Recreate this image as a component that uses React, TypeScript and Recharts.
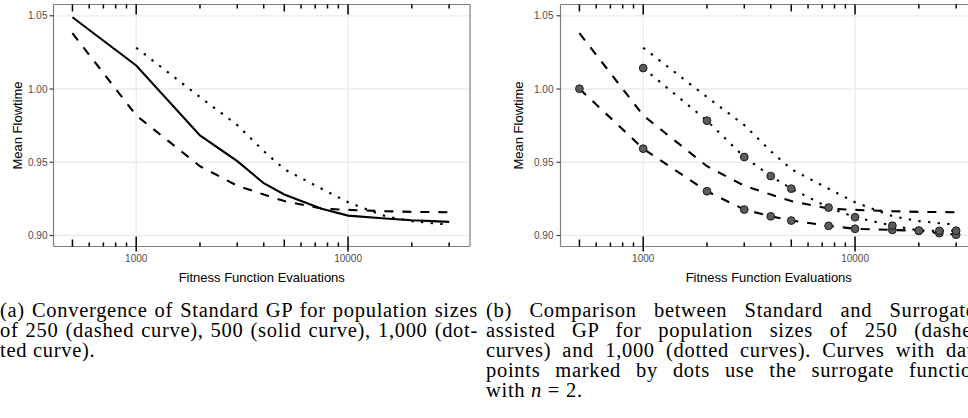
import React from 'react';
import { LineChart, Line, XAxis, YAxis, CartesianGrid } from 'recharts';

// ---- data ----
const evaluations = [500, 1000, 2000, 3000, 4000, 5000, 7500, 10000, 15000, 20000, 25000, 30000];
const standard250 = [1.0381, 0.982, 0.9473, 0.934, 0.928, 0.9235, 0.9184, 0.9175, 0.9166, 0.9161, 0.916, 0.9159];
const standard500 = [1.049, 1.0161, 0.9683, 0.9508, 0.9357, 0.928, 0.9182, 0.9136, 0.9116, 0.9104, 0.9098, 0.9093];
const standard1000 = [null, 1.0282, 0.9945, 0.9754, 0.9576, 0.9453, 0.9319, 0.9227, 0.9132, 0.9098, 0.9084, 0.9075];
const surrogate250 = [1.0002, 0.9593, 0.9302, 0.9177, 0.9131, 0.9102, 0.9066, 0.9046, 0.9038, 0.9032, 0.9016, 0.9006];
const surrogate1000 = [null, 1.0143, 0.9784, 0.9536, 0.9406, 0.932, 0.9191, 0.9125, 0.9067, 0.9034, 0.9032, 0.9033];

const yTicks = [0.9, 0.95, 1.0, 1.05];
const xMajorTicks = [1000, 10000];
const xMidTicks = [500, 5000];
const xLogTicks = [500, 600, 700, 800, 900, 1000, 2000, 3000, 4000, 5000, 6000, 7000, 8000, 9000, 10000, 20000, 30000];
const X_DOMAIN: [number, number] = [407, 37640];
const Y_DOMAIN: [number, number] = [0.8925, 1.0577];

const xTitle = 'Fitness Function Evaluations';
const yTitle = 'Mean Flowtime';

const captionA = [
  '(a) Convergence of Standard GP for population sizes',
  'of 250 (dashed curve), 500 (solid curve), 1,000 (dot-',
  'ted curve).',
];
const captionB = [
  '(b) Comparison between Standard and Surrogate-',
  'assisted GP for population sizes of 250 (dashed',
  'curves) and 1,000 (dotted curves). Curves with data',
  'points marked by dots use the surrogate function',
];

const data = evaluations.map((x, i) => ({
  evaluations: x,
  standard250: standard250[i],
  standard500: standard500[i],
  standard1000: standard1000[i],
  surrogate250: surrogate250[i],
  surrogate1000: surrogate1000[i],
}));

// ---- layout & styling ----
const CHART_W = 480;
const CHART_H = 290;
const MARGIN_TOP = 4.5;
const X_AXIS_H = 43.5;
const PLOT_H = CHART_H - MARGIN_TOP - X_AXIS_H;

const SANS = '"Liberation Sans", Arial, Helvetica, sans-serif';
const SERIF = '"Liberation Serif", serif';
const TICK_COLOR = '#000';
const LABEL_COLOR = '#4d4d4d';
const GRID = '#ebebeb';
const BORDER = '#7f7f7f';
const LW = 2.1;
const DASHED = '9 9';
const DOTTED = '2.4 7.3';
const TW = 1.5;

const tickLen = (v: number) => (xMajorTicks.includes(v) ? 10 : xMidTicks.includes(v) ? 7 : 4);

// bottom log ticks: inside the panel, majors also poke out below
const LogTick = (props: any) => {
  const { x, y, payload } = props;
  const v = Number(payload.value);
  const major = xMajorTicks.includes(v);
  const len = tickLen(v);
  const topY = y - PLOT_H;
  return (
    <g>
      <rect x={x - TW / 2} y={y - len} width={TW} height={len + (major ? 5 : 0)} fill={TICK_COLOR} />
      <rect x={x - TW / 2} y={topY} width={TW} height={len} fill={TICK_COLOR} />
      {major && (
        <text x={x} y={y + 15.5} textAnchor="middle" fontSize={10} fill={LABEL_COLOR} fontFamily={SANS}>
          {v}
        </text>
      )}
    </g>
  );
};

// top log ticks: inside the panel
const TopTick = (props: any) => {
  const { x, y, payload } = props;
  const len = tickLen(Number(payload.value));
  return <rect x={x - TW / 2} y={y} width={TW} height={len} fill={TICK_COLOR} />;
};

const renderDot = (p: any) => {
  if (p.value == null || p.cy == null || isNaN(p.cy)) return <g key={`e-${p.index}`} />;
  return <circle key={`d-${p.index}`} cx={p.cx} cy={p.cy} r={3.9} fill="#5c5c5c" stroke="#111" strokeWidth={0.9} />;
};

type PanelProps = { variant: 'a' | 'b'; yTitleX: number; tickMargin: number };

const Panel = ({ variant, yTitleX, tickMargin }: PanelProps) => (
  <LineChart
    width={CHART_W}
    height={CHART_H}
    data={data}
    margin={{ top: MARGIN_TOP, right: 10, bottom: 0, left: 0 }}
  >
    <CartesianGrid stroke={GRID} strokeWidth={1.3} horizontalValues={yTicks} verticalValues={xMajorTicks} />
    <CartesianGrid stroke={BORDER} strokeWidth={1.2} horizontalValues={Y_DOMAIN} verticalValues={X_DOMAIN} />
    <XAxis
      dataKey="evaluations"
      type="number"
      scale="log"
      domain={X_DOMAIN}
      allowDataOverflow
      ticks={xLogTicks}
      interval={0}
      height={X_AXIS_H}
      tickSize={0}
      tickMargin={0}
      axisLine={false}
      tickLine={false}
      tick={(p: any) => <LogTick {...p} />}
      label={{
        content: (p: any) => {
          const vb = p.viewBox;
          return (
            <text x={vb.x + vb.width / 2} y={vb.y + 35} textAnchor="middle" fontSize={13} fill="#000" fontFamily={SANS}>
              {xTitle}
            </text>
          );
        },
      }}
    />
    <XAxis
      xAxisId="top"
      orientation="top"
      dataKey="evaluations"
      type="number"
      scale="log"
      domain={X_DOMAIN}
      allowDataOverflow
      ticks={xLogTicks}
      interval={0}
      height={0}
      tickSize={0}
      tickMargin={0}
      axisLine={false}
      tickLine={false}
      tick={(p: any) => <TopTick {...p} />}
    />
    <YAxis
      type="number"
      domain={Y_DOMAIN}
      allowDataOverflow
      ticks={yTicks}
      interval={0}
      width={53.5}
      tickSize={4}
      tickMargin={tickMargin}
      axisLine={false}
      tickLine={{ stroke: '#333', strokeWidth: 1.1 }}
      tick={{ fontSize: 10, fill: LABEL_COLOR, fontFamily: SANS }}
      tickFormatter={(v: number) => v.toFixed(2)}
      label={{
        content: (p: any) => {
          const vb = p.viewBox;
          const cx = vb.x + yTitleX;
          const cy = vb.y + vb.height / 2;
          return (
            <text
              x={cx}
              y={cy}
              transform={`rotate(-90, ${cx}, ${cy})`}
              textAnchor="middle"
              dominantBaseline="central"
              fontSize={13}
              fill="#000"
              fontFamily={SANS}
            >
              {yTitle}
            </text>
          );
        },
      }}
    />
    <Line
      dataKey="standard250"
      type="linear"
      stroke="#000"
      strokeWidth={LW}
      strokeDasharray={DASHED}
      dot={false}
      activeDot={false}
      isAnimationActive={false}
    />
    {variant === 'a' && (
      <Line
        dataKey="standard500"
        type="linear"
        stroke="#000"
        strokeWidth={LW}
        dot={false}
        activeDot={false}
        isAnimationActive={false}
      />
    )}
    <Line
      dataKey="standard1000"
      type="linear"
      stroke="#000"
      strokeWidth={LW}
      strokeDasharray={DOTTED}
      dot={false}
      activeDot={false}
      isAnimationActive={false}
    />
    {variant === 'b' && (
      <Line
        dataKey="surrogate250"
        type="linear"
        stroke="#000"
        strokeWidth={LW}
        strokeDasharray={DASHED}
        dot={renderDot}
        activeDot={false}
        isAnimationActive={false}
      />
    )}
    {variant === 'b' && (
      <Line
        dataKey="surrogate1000"
        type="linear"
        stroke="#000"
        strokeWidth={LW}
        strokeDasharray={DOTTED}
        dot={renderDot}
        activeDot={false}
        isAnimationActive={false}
      />
    )}
  </LineChart>
);

const lineStyle = (last: boolean): React.CSSProperties => ({
  height: 20,
  lineHeight: '20px',
  whiteSpace: 'nowrap',
  textAlign: last ? 'left' : 'justify',
  textAlignLast: last ? 'left' : 'justify',
});

const Caption = ({ lines, tail, left, width }: { lines: string[]; tail?: React.ReactNode; left: number; width: number }) => (
  <div
    style={{
      position: 'absolute',
      left,
      top: 300,
      width,
      fontFamily: SERIF,
      fontSize: 20.5,
      letterSpacing: '0.7px',
      color: '#000',
    }}
  >
    {lines.map((l, i) => (
      <div key={i} style={lineStyle(!tail && i === lines.length - 1)}>
        {l}
      </div>
    ))}
    {tail && <div style={lineStyle(true)}>{tail}</div>}
  </div>
);

export default function App() {
  return (
    <div
      style={{
        position: 'absolute',
        left: 0,
        top: 0,
        width: 968,
        height: 418,
        overflow: 'hidden',
        background: '#fff',
      }}
    >
      <div style={{ position: 'absolute', left: 0, top: 0 }}>
        <Panel variant="a" yTitleX={17} tickMargin={2} />
      </div>
      <div style={{ position: 'absolute', left: 507, top: 0 }}>
        <Panel variant="b" yTitleX={11} tickMargin={3} />
      </div>
      <Caption lines={captionA} left={0} width={478} />
      <Caption
        lines={captionB}
        left={486}
        width={497}
        tail={
          <span>
            with <i>n</i> = 2.
          </span>
        }
      />
    </div>
  );
}
